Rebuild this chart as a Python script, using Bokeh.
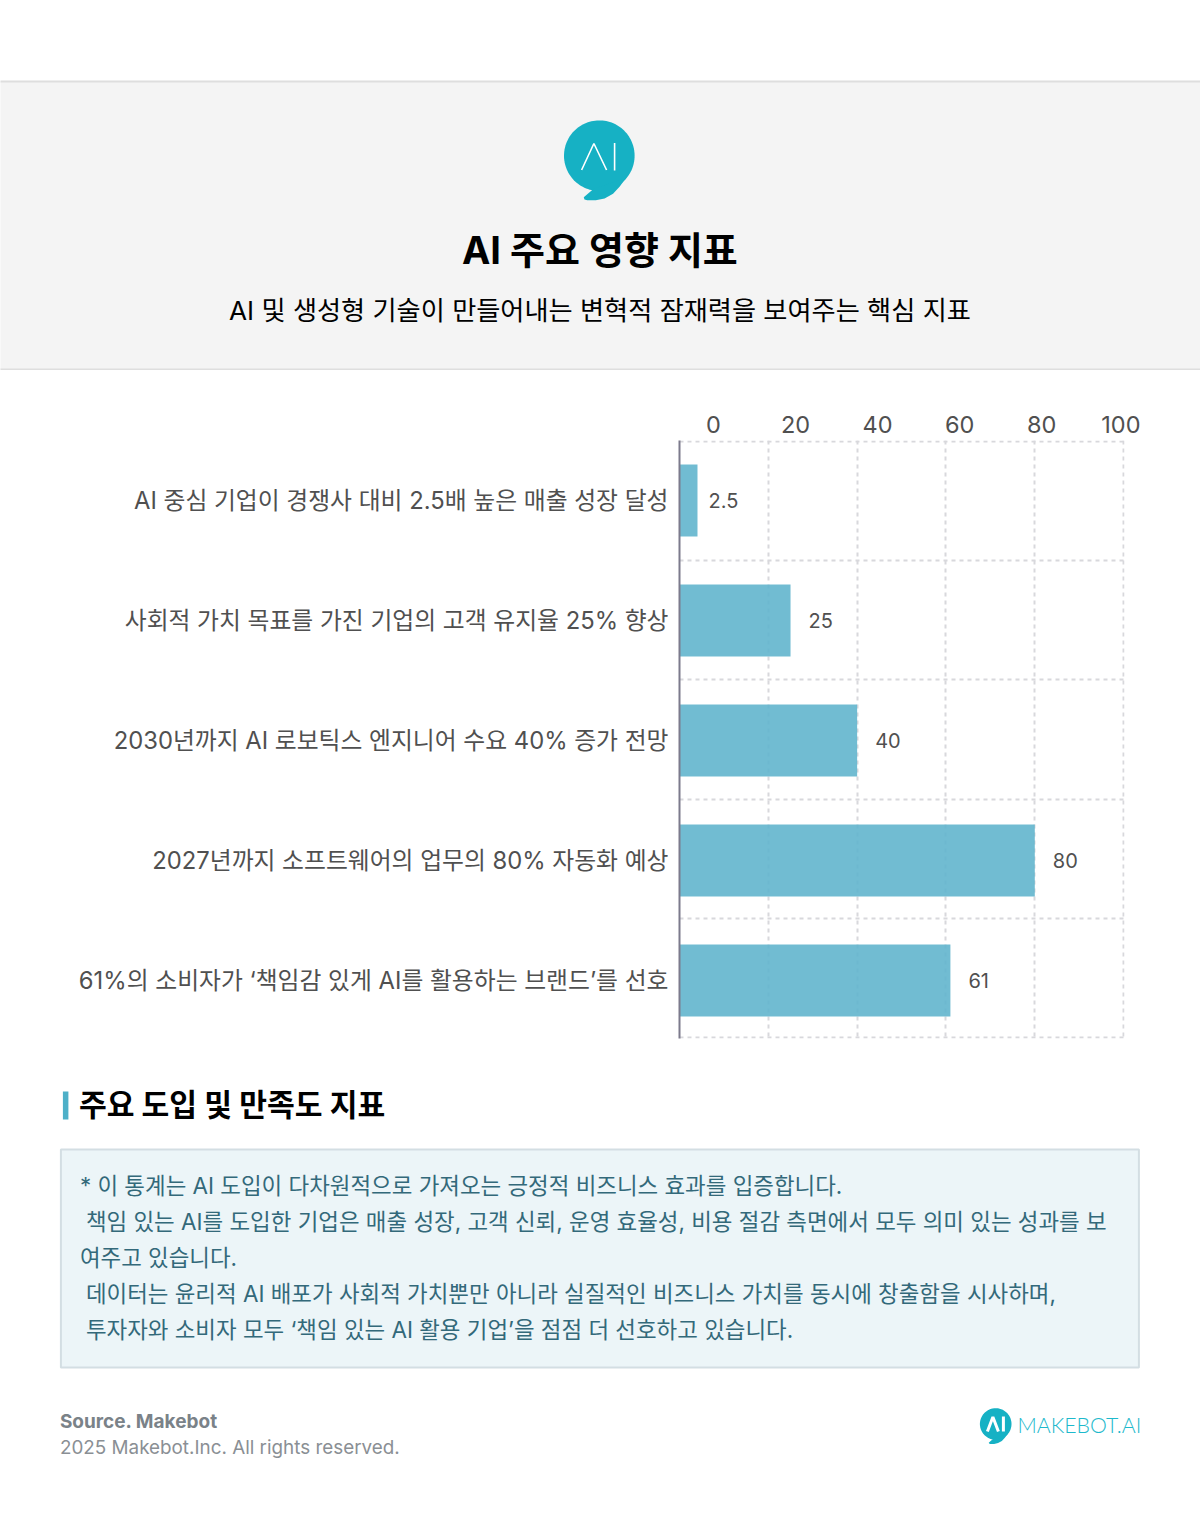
from bokeh.embed import file_html
from bokeh.resources import INLINE
from bokeh.plotting import figure
from bokeh.layouts import column
from bokeh.models import Range1d, LinearAxis, FixedTicker, Grid, ColumnDataSource
from bokeh.core.properties import value
import numpy as np

# ---- data ----
categories = [
    "AI 중심 기업이 경쟁사 대비 2.5배 높은 매출 성장 달성",
    "사회적 가치 목표를 가진 기업의 고객 유지율 25% 향상",
    "2030년까지 AI 로보틱스 엔지니어 수요 40% 증가 전망",
    "2027년까지 소프트웨어의 업무의 80% 자동화 예상",
    "61%의 소비자가 ‘책임감 있게 AI를 활용하는 브랜드’를 선호",
]
values = [2.5, 25, 40, 80, 61]
bar_lengths = [4.05, 25, 40, 80, 61]   # as drawn: the first bar is longer than its value
value_labels = ["2.5", "25", "40", "80", "61"]
x_ticks = [0, 20, 40, 60, 80, 100]

title = "AI 주요 영향 지표"
subtitle = "AI 및 생성형 기술이 만들어내는 변혁적 잠재력을 보여주는 핵심 지표"
section_title = "주요 도입 및 만족도 지표"
note_lines = [
    "* 이 통계는 AI 도입이 다차원적으로 가져오는 긍정적 비즈니스 효과를 입증합니다.",
    "책임 있는 AI를 도입한 기업은 매출 성장, 고객 신뢰, 운영 효율성, 비용 절감 측면에서 모두 의미 있는 성과를 보",
    "여주고 있습니다.",
    "데이터는 윤리적 AI 배포가 사회적 가치뿐만 아니라 실질적인 비즈니스 가치를 동시에 창출함을 시사하며,",
    "투자자와 소비자 모두 ‘책임 있는 AI 활용 기업’을 점점 더 선호하고 있습니다.",
]
note_indents = [0, 6, 0, 6, 6]
source_text = "Source. Makebot"
copyright_text = "2025 Makebot.Inc. All rights reserved."
brand_text = "MAKEBOT.AI"

FONT = "Inter, 'Noto Sans CJK KR', sans-serif"
CW = 1200


def page_figure(top, bottom):
    f = figure(width=CW, height=bottom - top, x_range=Range1d(0.6, CW + 0.6), y_range=Range1d(bottom, top),
               x_axis_location=None, y_axis_location=None, toolbar_location=None,
               output_backend="svg", min_border=0, outline_line_color=None, frame_align=False,
               background_fill_color="white", border_fill_color="white")
    f.grid.visible = False
    return f


def txt(f, x, y, s, size, color, style="normal", align="left", font=FONT):
    f.text([x], [y], text=[s], text_font=value(font), text_font_size=f"{size}px",
           text_color=color, text_font_style=style, text_align=align, text_baseline="middle")


def logo(f, cx, cy, r, tail):
    t = np.linspace(0, 2 * np.pi, 120)
    f.patch(cx + r * np.cos(t), cy + r * np.sin(t), fill_color="#16B1C4", line_color=None)
    f.patch([cx + r * d[0] for d in tail], [cy + r * d[1] for d in tail], fill_color="#16B1C4", line_color=None)


LOGO_TAIL = [(-0.15, 0.93), (-0.3, 1.06), (-0.44, 1.18), (-0.42, 1.24), (-0.34, 1.265), (-0.1, 1.265),
             (0.15, 1.21), (0.39, 1.08), (0.58, 0.87), (0.75, 0.64)]

# ---- header ----
head = page_figure(0, 370)
head.quad(left=-2, right=CW + 2, top=81, bottom=369, fill_color="#F4F4F4", line_color=None)
head.segment([-2, -2], [81, 369], [CW + 2, CW + 2], [81, 369], line_color="#DEDEDE", line_width=2)
logo(head, 599.4, 155.2, 35.3, LOGO_TAIL)
head.line([581.7, 594, 606.7], [169.5, 143, 169.5], line_color="white", line_width=1.6)
head.line([614.7, 614.7], [142.5, 170], line_color="white", line_width=1.6)
txt(head, 600, 249, title, 38, "#000000", "bold", "center")
txt(head, 600, 310, subtitle, 26.2, "#000000", "normal", "center")

# ---- chart ----
n_rows = len(categories)
# rows in the reference repeat every 120 px while its grid repeats every 119.2 px
row_unit = 598 / 5.02
pos = np.array([(60 + 120 * i) / row_unit - 0.01 for i in range(n_rows)])
chart = figure(width=1140, height=675, x_range=Range1d(0, 100.2), y_range=Range1d(5.01, -0.01),
               x_axis_location=None, y_axis_location=None, toolbar_location=None,
               output_backend="svg", min_border_left=679, min_border_right=16,
               min_border_top=70, min_border_bottom=7, outline_line_color=None, frame_align=False)
chart.grid.visible = False
GRID = dict(grid_line_color="#D8D8DC", grid_line_width=2, grid_line_dash="4 4")
chart.add_layout(Grid(dimension=0, ticker=FixedTicker(ticks=x_ticks), **GRID))
chart.add_layout(Grid(dimension=1, ticker=FixedTicker(ticks=list(range(n_rows + 1))), **GRID))

source = ColumnDataSource(dict(y=pos, v=values, w=bar_lengths, t=value_labels))
chart.hbar(y="y", left=0, right="w", height=0.604, source=source,
           fill_color="#62B5CD", fill_alpha=0.9, line_color=None)
chart.text(x="v", y="y", text="t", source=source, x_offset=18, text_align="left", text_baseline="middle",
           text_font=value(FONT), text_font_size="20px", text_color="#505050")

yaxis = LinearAxis(ticker=FixedTicker(ticks=[float(p) for p in pos]),
                   major_label_overrides={float(p): c for p, c in zip(pos, categories)},
                   major_tick_line_color=None, minor_tick_line_color=None,
                   axis_line_color="#7C7A8C", axis_line_width=2, major_label_standoff=5,
                   major_label_text_font=FONT, major_label_text_font_size="23.8px",
                   major_label_text_color="#505050")
chart.add_layout(yaxis, "left")

# The tick labels sit on a tighter spacing than the grid lines in the reference
chart.extra_x_ranges["ticks"] = Range1d((679 - 713) / 4.11, 100.2)
xaxis = LinearAxis(x_range_name="ticks", ticker=FixedTicker(ticks=x_ticks),
                   major_tick_line_color=None, minor_tick_line_color=None, axis_line_color=None,
                   major_label_standoff=2, major_label_text_font=FONT,
                   major_label_text_font_size="23.5px", major_label_text_color="#505050")
chart.add_layout(xaxis, "above")

# ---- footer ----
foot = page_figure(1045, 1530)
foot.quad(left=63, right=68.5, top=1091, bottom=1119, fill_color="#4EB0C8", line_color=None)
txt(foot, 79, 1104, section_title, 30.2, "#000000", "bold")
foot.quad(left=61, right=1139, top=1149, bottom=1367, fill_color="#ECF5F8", line_color="#D3DEE3", line_width=2)
for i, (line, indent) in enumerate(zip(note_lines, note_indents)):
    txt(foot, 80 + indent, 1185 + 36 * i, line, 22.43, "#33697A")
txt(foot, 60, 1421, source_text, 19, "#7A8288", "bold")
txt(foot, 60, 1447, copyright_text, 18.85, "#8A8F94")
logo(foot, 995.8, 1423.5, 15.8, LOGO_TAIL)
foot.line([987.5, 993, 998.5], [1431, 1416.5, 1431], line_color="white", line_width=3)
foot.line([1003.5, 1003.5], [1416, 1431], line_color="white", line_width=3)
txt(foot, 1017.5, 1424, brand_text, 21.3, "#1DB9CC", font="Lato Light")

page = column(head, chart, foot, spacing=0, margin=0)
open("out.html", "w").write(file_html(page, INLINE))
